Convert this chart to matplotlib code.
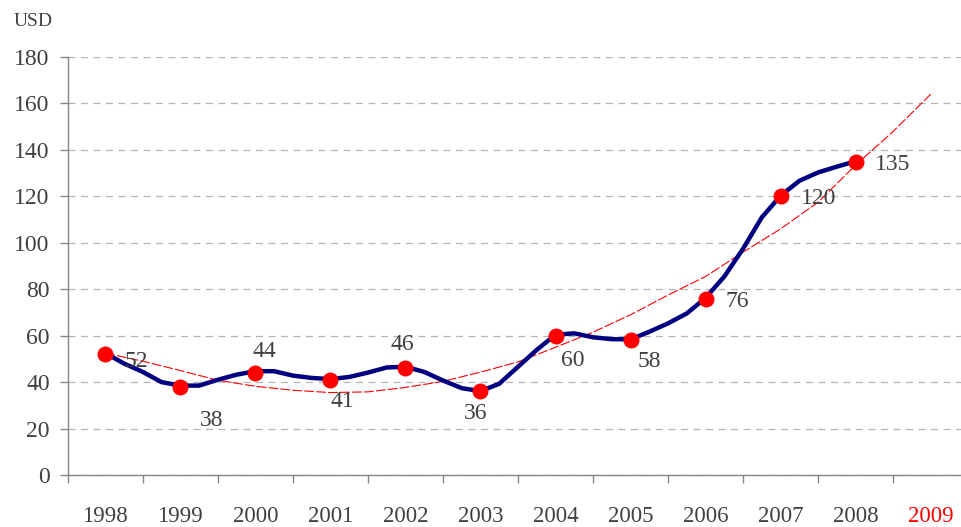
import matplotlib
matplotlib.use('Agg')
import matplotlib.pyplot as plt
import numpy as np

plt.rcParams['font.family'] = ['Liberation Serif', 'DejaVu Serif']
plt.rcParams['lines.scale_dashes'] = False

# ---- data ----
years = ['1998', '1999', '2000', '2001', '2002', '2003', '2004',
         '2005', '2006', '2007', '2008', '2009']
annual_values = [52, 38, 44, 41, 46, 36, 60, 58, 76, 120, 135]
annual_labels = ['52', '38', '44', '41', '46', '36', '60', '58', '76', '120', '135']
# quarterly price, first point at the middle of 1998, last at the middle of 2008
quarterly_price = [52.5, 48.0, 44.4, 40.0, 38.5, 38.5, 41.0, 43.2, 44.7, 44.7,
                   42.8, 41.8, 41.3, 42.2, 44.1, 46.3, 46.6, 44.4, 40.7, 37.4,
                   36.1, 39.3, 46.6, 53.9, 60.4, 61.0, 59.3, 58.5, 58.4, 61.7,
                   65.3, 69.6, 76.3, 85.5, 97.5, 111.0, 120.3, 126.7, 130.3, 132.8,
                   135.1]
# trend line, half-year steps from the middle of 1998 to the middle of 2009
trend_values = [52.5, 49.0, 45.0, 40.8, 38.2, 36.5, 35.5, 35.8, 37.7, 40.3,
                44.3, 48.7, 55.0, 61.5, 69.0, 77.5, 85.5, 96.0, 106.0, 117.5,
                133.5, 148.0, 164.0]
y_ticks = [0, 20, 40, 60, 80, 100, 120, 140, 160, 180]

# ---- styling ----
label_offsets = [(31, -7), (31, -34), (9, 21), (12, -22), (-3, 24), (-5, -22),
                 (17, -25), (19, -21), (32, -3), (38, -2), (37, -3)]
text_color = '#404040'
axis_color = '#868686'
grid_color = '#b4b4b4'

W, H = 962, 527
fig = plt.figure(figsize=(W / 100, H / 100), dpi=100)
left, right, top, bottom = 67.7, 962, 57, 475
ax = fig.add_axes([left / W, 1 - bottom / H, (right - left) / W, (bottom - top) / H])

year_step = 75.05
ax.set_xlim(0, (right - left) / year_step)
ax.set_ylim(0, 180)

centers = np.arange(len(years)) + 0.5
q_pos = 0.5 + 0.25 * np.arange(len(quarterly_price))
t_pos = 0.5 + 0.5 * np.arange(len(trend_values))

ax.plot(t_pos, trend_values, color='#ff0000', lw=0.8,
        linestyle=(0, (7, 1.6)), zorder=2)
ax.plot(q_pos, quarterly_price, color='#000080', lw=3.2,
        solid_joinstyle='round', solid_capstyle='round', zorder=3)
ax.plot(centers[:len(annual_values)], annual_values, linestyle='none',
        marker='o', markersize=11.5, color='#ff0000', markeredgewidth=0, zorder=4)

for i, (v, lab) in enumerate(zip(annual_values, annual_labels)):
    dx, dy = label_offsets[i]
    ax.annotate(lab, (centers[i], v), xytext=(dx, dy), textcoords='offset pixels',
                ha='center', va='center', fontsize=17, color=text_color, zorder=5)

# axes styling
for s in ['top', 'right']:
    ax.spines[s].set_visible(False)
for s in ['left', 'bottom']:
    ax.spines[s].set_color(axis_color)
    ax.spines[s].set_linewidth(1.0)

ax.set_yticks(y_ticks)
ax.set_yticklabels([str(t) for t in y_ticks])
ax.tick_params(axis='y', direction='out', length=6, width=1, color=axis_color,
               labelsize=17, labelcolor=text_color, pad=7)
ax.yaxis.grid(True, linestyle=(0, (5, 4)), color=grid_color, linewidth=0.9)
ax.set_axisbelow(True)

ax.set_xticks(np.arange(0, len(years)))
ax.set_xticklabels([])
ax.tick_params(axis='x', which='major', direction='out', length=6, width=1,
               color=axis_color)
ax.set_xticks(centers, minor=True)
ax.set_xticklabels(years, minor=True)
ax.tick_params(axis='x', which='minor', length=0, labelsize=16.5,
               labelcolor=text_color, pad=22)
for lbl in ax.get_xticklabels(minor=True):
    if lbl.get_text() == '2009':
        lbl.set_color('#ff0000')

fig.text(33 / W, 1 - 22 / H, 'USD', ha='center', va='center',
         fontsize=14, color=text_color)

fig.savefig('out.png', dpi=100)
